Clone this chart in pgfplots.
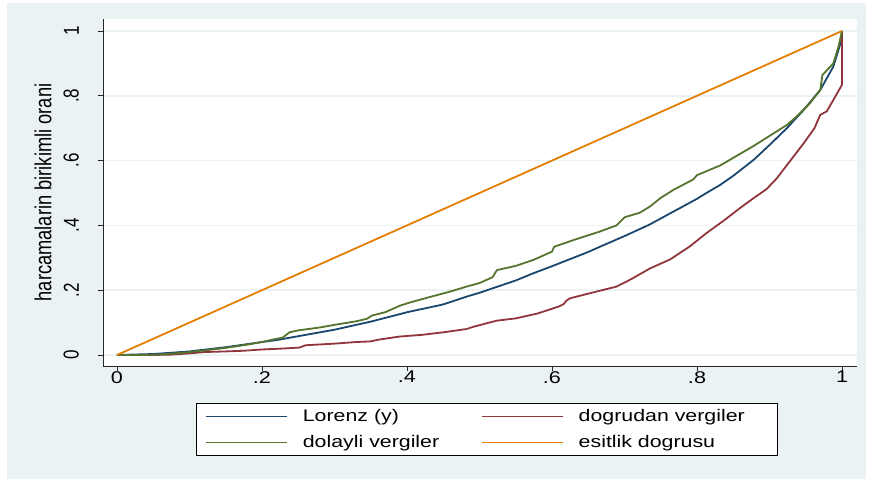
\documentclass[border=0pt]{standalone}
\usepackage{fontspec}
\setmainfont{Liberation Sans}
\newfontfamily\widefont[FakeStretch=1.27]{Liberation Sans}
\usepackage{graphicx}
\usepackage{pgfplots}
\pgfplotsset{compat=1.18}
\definecolor{sbg}{HTML}{EAF2F3}
\definecolor{snavy}{HTML}{1A476F}
\definecolor{smaroon}{HTML}{90353B}
\definecolor{sgreen}{HTML}{55752F}
\definecolor{sorange}{HTML}{E37E00}
\newcommand{\ytl}[1]{\scalebox{1}[1.27]{#1}}
\begin{document}
\begin{tikzpicture}[x=1pt,y=1pt]
\fill[white] (0,0) rectangle (872,479);
\fill[sbg] (7,0) rectangle (866,476);
\fill[white] (103,113) rectangle (857,460);
\begin{axis}[
  at={(103pt,113pt)}, anchor=south west, scale only axis,
  width=754pt, height=347pt,
  xmin=-0.0193, xmax=1.0207, ymin=-0.034, ymax=1.037,
  axis x line*=bottom, axis y line*=left,
  axis line style={-, line width=0.8pt, color=black!85},
  xtick={0,0.2,0.4,0.6,0.8,1}, xticklabels={0,.2,.4,.6,.8,1},
  ytick={0,0.2,0.4,0.6,0.8,1},
  yticklabels={\ytl{0},\ytl{.2},\ytl{.4},\ytl{.6},\ytl{.8},\ytl{1}},
  tick align=outside, major tick length=5pt,
  tick style={line width=0.8pt, color=black!85},
  ymajorgrids, grid style={sbg, line width=1.5pt},
  xticklabel style={font=\widefont\fontsize{17}{20}\selectfont, anchor=north, inner sep=0pt},
  yticklabel style={font=\fontsize{17}{20}\selectfont, xshift=-19pt, rotate=90, anchor=south, inner sep=0pt},
  ylabel={\scalebox{1}[1.27]{harcamalarin birikimli orani}},
  ylabel style={font=\fontsize{18.3}{22}\selectfont, at={(axis description cs:-0.0796,0.5)}, anchor=center},
  legend columns=2, legend cell align=left,
  legend image code/.code={\draw[#1, line width=1.5pt] (0pt,0pt) -- (81pt,0pt);},
  legend style={at={(axis description cs:0.1233,-0.1066)}, anchor=north west,
    draw=black, line width=0.8pt, fill=white,
    font=\widefont\fontsize{16.8}{20}\selectfont,
    inner xsep=9pt, inner ysep=0pt, row sep=0pt,
    nodes={inner xsep=0pt, inner ysep=0pt, minimum height=26pt},
    /tikz/every odd column/.append style={column sep=15pt},
    /tikz/every even column/.append style={column sep=42pt}},
  every axis plot/.append style={line width=1.8pt, line join=round},
]
\addplot[snavy] coordinates {
(0,0) (0.05,0.003) (0.1,0.011) (0.15,0.024) (0.2,0.040) (0.22,0.046) (0.25,0.058)
(0.3,0.078) (0.35,0.103) (0.39,0.126) (0.4,0.132) (0.45,0.156) (0.482,0.180)
(0.5,0.192) (0.55,0.230) (0.574,0.252) (0.6,0.274) (0.65,0.318) (0.666,0.334)
(0.7,0.367) (0.735,0.403) (0.767,0.442) (0.8,0.482) (0.813,0.500) (0.832,0.525)
(0.85,0.553) (0.878,0.602) (0.9,0.648) (0.924,0.700) (0.947,0.756) (0.970,0.818)
(0.988,0.890) (0.997,0.955) (1,1)};
\addlegendentry{Lorenz (y)}
\addplot[smaroon] coordinates {
(0,0) (0.05,0.0) (0.073,0.001) (0.10,0.005) (0.12,0.009) (0.15,0.011) (0.174,0.013)
(0.20,0.017) (0.23,0.020) (0.252,0.023) (0.26,0.030) (0.30,0.035) (0.33,0.040)
(0.35,0.042) (0.36,0.047) (0.39,0.057) (0.42,0.062) (0.45,0.070) (0.482,0.080)
(0.49,0.086) (0.51,0.098) (0.524,0.106) (0.55,0.113) (0.58,0.128) (0.61,0.150)
(0.616,0.157) (0.62,0.168) (0.625,0.175) (0.66,0.195) (0.689,0.211) (0.71,0.235)
(0.735,0.267) (0.763,0.295) (0.79,0.335) (0.813,0.376) (0.84,0.420) (0.859,0.453)
(0.878,0.484) (0.896,0.512) (0.91,0.545) (0.924,0.586) (0.947,0.653) (0.962,0.700)
(0.970,0.741) (0.979,0.752) (0.988,0.787) (0.999,0.830) (1,0.835) (1,1)};
\addlegendentry{dogrudan vergiler\hspace*{24pt}}
\addplot[sgreen] coordinates {
(0,0) (0.03,0.0) (0.055,0.001) (0.08,0.005) (0.10,0.009) (0.12,0.014) (0.15,0.022)
(0.18,0.032) (0.20,0.040) (0.22,0.050) (0.228,0.053) (0.238,0.070) (0.25,0.076)
(0.28,0.085) (0.30,0.093) (0.33,0.104) (0.345,0.112) (0.352,0.122) (0.37,0.132)
(0.39,0.152) (0.404,0.162) (0.43,0.178) (0.46,0.196) (0.482,0.211) (0.50,0.222)
(0.518,0.240) (0.524,0.262) (0.55,0.275) (0.574,0.293) (0.60,0.319) (0.603,0.334)
(0.63,0.355) (0.666,0.381) (0.689,0.400) (0.70,0.425) (0.721,0.439) (0.735,0.458)
(0.75,0.485) (0.767,0.509) (0.795,0.542) (0.80,0.555) (0.832,0.585) (0.878,0.645)
(0.924,0.710) (0.938,0.737) (0.955,0.775) (0.970,0.818) (0.973,0.864) (0.988,0.90)
(0.995,0.95) (1,1)};
\addlegendentry{dolayli vergiler}
\addplot[sorange] coordinates {(0,0) (1,1)};
\addlegendentry{esitlik dogrusu}
\end{axis}
\end{tikzpicture}
\end{document}
